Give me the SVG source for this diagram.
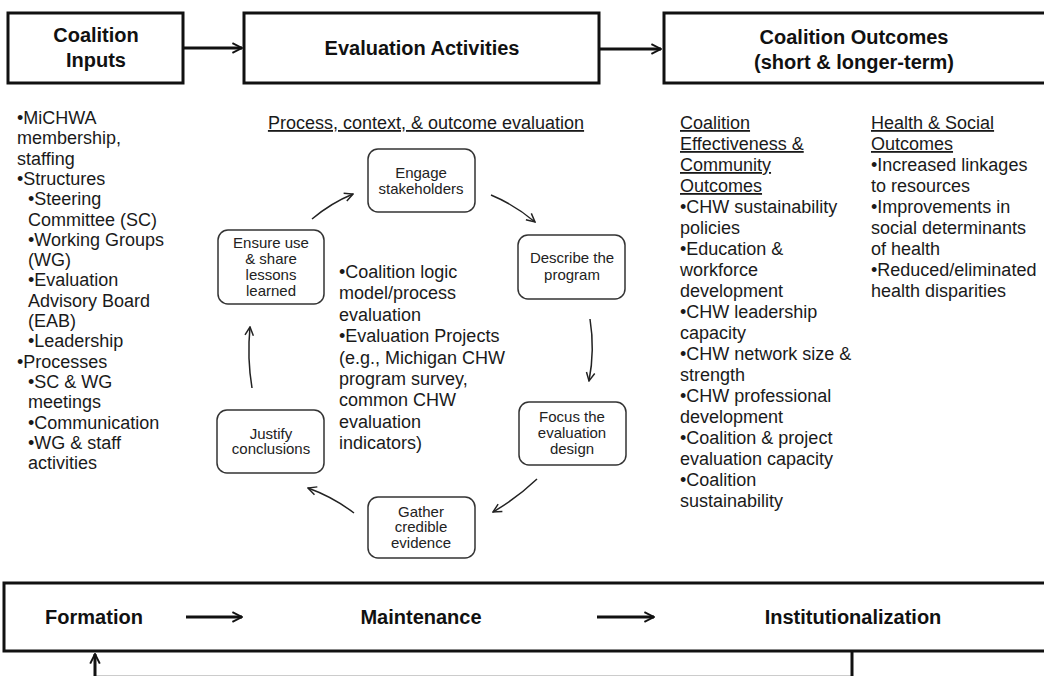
<svg xmlns="http://www.w3.org/2000/svg" width="1044" height="676" viewBox="0 0 1044 676">
<style>
.hbox{fill:#fff;stroke:#111;stroke-width:3}
.rbox{fill:#fff;stroke:#333;stroke-width:1.5}
.hd{font-family:"Liberation Sans",Arial,sans-serif;font-weight:bold;font-size:20px;fill:#111;text-anchor:middle}
.bt{font-family:"Liberation Sans",Arial,sans-serif;font-size:18px;fill:#1a1a1a}
.bx{font-family:"Liberation Sans",Arial,sans-serif;font-size:15px;fill:#222;text-anchor:middle}
.u{text-decoration:underline}
.thick{fill:none;stroke:#111;stroke-width:3}
.thin{fill:none;stroke:#222;stroke-width:1.5}
</style>
<defs>
<marker id="ah" viewBox="0 0 10 10" refX="9" refY="5" markerWidth="4" markerHeight="4" orient="auto" markerUnits="strokeWidth">
<path d="M1,1 L9,5 L1,9" fill="none" stroke="#111" stroke-width="1.6"/>
</marker>
<marker id="as" viewBox="0 0 10 10" refX="9" refY="5" markerWidth="7" markerHeight="7" orient="auto" markerUnits="strokeWidth">
<path d="M1,1 L9,5 L1,9" fill="none" stroke="#222" stroke-width="1.4"/>
</marker>
</defs>

<g id="inputs">
<rect class="hbox" x="8" y="13" width="175" height="70"/>
<text class="hd" x="96" y="42">Coalition</text>
<text class="hd" x="96" y="67">Inputs</text>
</g>
<g id="activities">
<rect class="hbox" x="244" y="13" width="355" height="70"/>
<text class="hd" x="422" y="55">Evaluation Activities</text>
</g>
<g id="outcomes">
<rect class="hbox" x="664" y="13" width="400" height="70"/>
<text class="hd" x="854" y="44">Coalition Outcomes</text>
<text class="hd" x="854" y="69">(short &amp; longer-term)</text>
</g>

<g id="inputs-list" class="bt">
<text x="17" y="124">•MiCHWA</text>
<text x="17" y="144.3">membership,</text>
<text x="17" y="164.6">staffing</text>
<text x="17" y="184.9">•Structures</text>
<text x="28" y="205.2">•Steering</text>
<text x="28" y="225.5">Committee (SC)</text>
<text x="28" y="245.8">•Working Groups</text>
<text x="28" y="266.1">(WG)</text>
<text x="28" y="286.4">•Evaluation</text>
<text x="28" y="306.7">Advisory Board</text>
<text x="28" y="327">(EAB)</text>
<text x="28" y="347.3">•Leadership</text>
<text x="17" y="367.6">•Processes</text>
<text x="28" y="387.9">•SC &amp; WG</text>
<text x="28" y="408.2">meetings</text>
<text x="28" y="428.5">•Communication</text>
<text x="28" y="448.8">•WG &amp; staff</text>
<text x="28" y="469.1">activities</text>
</g>

<g id="eval-title">
<text class="bt u" x="426" y="129" text-anchor="middle">Process, context, &amp; outcome evaluation</text>
</g>

<g id="eval-center" class="bt">
<text x="339" y="278">•Coalition logic</text>
<text x="339" y="299.4">model/process</text>
<text x="339" y="320.8">evaluation</text>
<text x="339" y="342.2">•Evaluation Projects</text>
<text x="339" y="363.6">(e.g., Michigan CHW</text>
<text x="339" y="385">program survey,</text>
<text x="339" y="406.4">common CHW</text>
<text x="339" y="427.8">evaluation</text>
<text x="339" y="449.2">indicators)</text>
</g>

<g id="engage">
<rect class="rbox" x="368" y="149" width="107" height="63" rx="10"/>
<text class="bx" x="421" y="178">Engage</text>
<text class="bx" x="421" y="194">stakeholders</text>
</g>
<g id="describe">
<rect class="rbox" x="518" y="235" width="107" height="64" rx="10"/>
<text class="bx" x="572" y="263">Describe the</text>
<text class="bx" x="572" y="280">program</text>
</g>
<g id="focus">
<rect class="rbox" x="519" y="402" width="107" height="63" rx="10"/>
<text class="bx" x="572" y="422">Focus the</text>
<text class="bx" x="572" y="438">evaluation</text>
<text class="bx" x="572" y="454">design</text>
</g>
<g id="gather">
<rect class="rbox" x="368" y="497" width="107" height="61" rx="10"/>
<text class="bx" x="421" y="517">Gather</text>
<text class="bx" x="421" y="532">credible</text>
<text class="bx" x="421" y="548">evidence</text>
</g>
<g id="justify">
<rect class="rbox" x="217" y="410" width="107" height="63" rx="10"/>
<text class="bx" x="271" y="439">Justify</text>
<text class="bx" x="271" y="454">conclusions</text>
</g>
<g id="ensure">
<rect class="rbox" x="218" y="230" width="106" height="74" rx="10"/>
<text class="bx" x="271" y="248">Ensure use</text>
<text class="bx" x="271" y="264">&amp; share</text>
<text class="bx" x="271" y="280">lessons</text>
<text class="bx" x="271" y="296">learned</text>
</g>

<g id="outcomes-col1" class="bt">
<text class="u" x="680" y="129">Coalition</text>
<text class="u" x="680" y="150">Effectiveness &amp;</text>
<text class="u" x="680" y="171">Community</text>
<text class="u" x="680" y="192">Outcomes</text>
<text x="680" y="213">•CHW sustainability</text>
<text x="680" y="234">policies</text>
<text x="680" y="255">•Education &amp;</text>
<text x="680" y="276">workforce</text>
<text x="680" y="297">development</text>
<text x="680" y="318">•CHW leadership</text>
<text x="680" y="339">capacity</text>
<text x="680" y="360">•CHW network size &amp;</text>
<text x="680" y="381">strength</text>
<text x="680" y="402">•CHW professional</text>
<text x="680" y="423">development</text>
<text x="680" y="444">•Coalition &amp; project</text>
<text x="680" y="465">evaluation capacity</text>
<text x="680" y="486">•Coalition</text>
<text x="680" y="507">sustainability</text>
</g>
<g id="outcomes-col2" class="bt">
<text class="u" x="871" y="129">Health &amp; Social</text>
<text class="u" x="871" y="150">Outcomes</text>
<text x="871" y="171">•Increased linkages</text>
<text x="871" y="192">to resources</text>
<text x="871" y="213">•Improvements in</text>
<text x="871" y="234">social determinants</text>
<text x="871" y="255">of health</text>
<text x="871" y="276">•Reduced/eliminated</text>
<text x="871" y="297">health disparities</text>
</g>

<g id="stages">
<rect class="hbox" x="4" y="583" width="1050" height="68"/>
<text class="hd" x="94" y="624">Formation</text>
<text class="hd" x="421" y="624">Maintenance</text>
<text class="hd" x="853" y="624">Institutionalization</text>
</g>

<g id="connectors">
<line class="thick" x1="183" y1="48" x2="242" y2="48" marker-end="url(#ah)"/>
<line class="thick" x1="599" y1="49" x2="661" y2="49" marker-end="url(#ah)"/>
<path class="thin" d="M312,219 Q331,203 353,194" marker-end="url(#as)"/>
<path class="thin" d="M491,195 Q515,205 535,222" marker-end="url(#as)"/>
<path class="thin" d="M590,319 Q595,350 589,381" marker-end="url(#as)"/>
<path class="thin" d="M537,479 Q517,498 493,512" marker-end="url(#as)"/>
<path class="thin" d="M354,513 Q333,497 308,488" marker-end="url(#as)"/>
<path class="thin" d="M252,388 Q247,358 250,327" marker-end="url(#as)"/>
<line class="thick" x1="186" y1="617" x2="242" y2="617" marker-end="url(#ah)"/>
<line class="thick" x1="597" y1="617" x2="654" y2="617" marker-end="url(#ah)"/>
<line x1="95" y1="675.5" x2="852" y2="675.5" stroke="#ccc" stroke-width="1"/>
<line class="thick" x1="95" y1="676" x2="95" y2="654" marker-end="url(#ah)"/>
<line class="thick" x1="852" y1="652" x2="852" y2="676"/>
</g>
</svg>
